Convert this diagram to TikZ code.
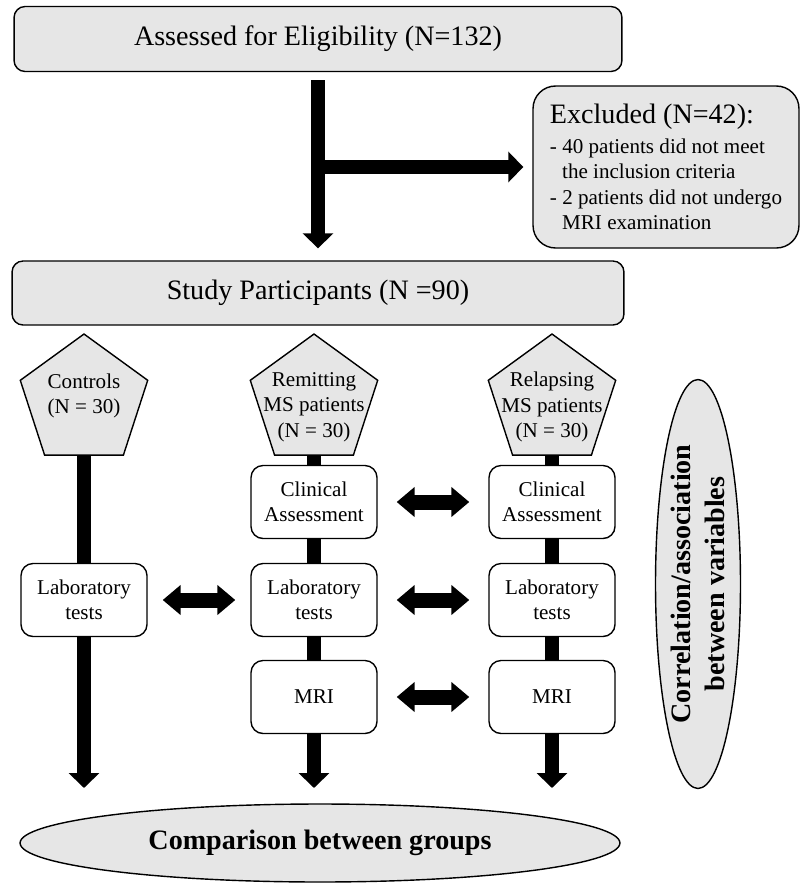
\documentclass[tikz,border=0pt]{standalone}
\usepackage{fontspec}
\setmainfont{Liberation Serif}
\usetikzlibrary{arrows.meta,shapes.geometric}
\definecolor{boxgrey}{HTML}{E6E6E6}
\begin{document}
\begin{tikzpicture}[x=0.02cm,y=-0.02cm,
    greybox/.style={draw,thick,rounded corners=0.22cm,fill=boxgrey,font=\fontsize{16}{19}\selectfont},
    stagebox/.style={draw,thick,rounded corners=0.24cm,fill=white,align=center,minimum width=2.52cm,minimum height=1.46cm,font=\fontsize{12}{14.5}\selectfont},
    pent/.style={regular polygon,regular polygon sides=5,draw,thick,fill=boxgrey,minimum size=2.68cm,inner sep=0pt},
    penttext/.style={align=center,font=\fontsize{12}{14.5}\selectfont},
    oval/.style={ellipse,draw,thick,fill=boxgrey,inner sep=0pt,align=center,font=\bfseries\fontsize{16}{19.5}\selectfont},
    fatline/.style={line width=0.28cm},
    fatarrow/.style={line width=0.28cm,-{Triangle[width=0.6cm,length=0.3cm]}},
    dblarrow/.style={line width=0.3cm,{Triangle[width=0.58cm,length=0.36cm]}-{Triangle[width=0.58cm,length=0.36cm]}}]
    \useasboundingbox (0,0) rectangle (800,883);

    % enrolment
    \node[greybox,minimum width=12.16cm,minimum height=1.3cm] (assessed) at (318,39) {Assessed for Eligibility (N=132)};
    \node[greybox,rounded corners=0.45cm,minimum width=5.32cm,minimum height=3.24cm,align=left,font=\fontsize{12}{14.5}\selectfont] (excluded) at (666,167)
        {{\fontsize{16}{19}\selectfont Excluded (N=42):}\\[2.5pt]
         - 40 patients did not meet\\
         \hspace*{0.58em}the inclusion criteria\\
         - 2 patients did not undergo\\
         \hspace*{0.58em}MRI examination};
    \node[greybox,minimum width=12.24cm,minimum height=1.28cm] (study) at (318,293) {Study Participants (N =90)};
    \coordinate (split) at (assessed.south |- excluded.west);

    % groups
    \node[pent] (ctrl) at (84,401) {};
    \node[pent] (rem) at (314,401) {};
    \node[pent] (rel) at (552,401) {};
    \node[penttext] (ctrltxt) at (84,396) {Controls\\(N = 30)};
    \node[penttext] (remtxt) at (314,407) {Remitting\\MS patients\\(N = 30)};
    \node[penttext] (reltxt) at (552,407) {Relapsing\\MS patients\\(N = 30)};

    % assessments
    \node[stagebox] (ctrllab) at (84,600) {Laboratory\\tests};
    \node[stagebox] (remclin) at (314,502) {Clinical\\Assessment};
    \node[stagebox] (remlab) at (314,600) {Laboratory\\tests};
    \node[stagebox] (remmri) at (314,697) {MRI};
    \node[stagebox] (relclin) at (552,502) {Clinical\\Assessment};
    \node[stagebox] (rellab) at (552,600) {Laboratory\\tests};
    \node[stagebox] (relmri) at (552,697) {MRI};
    \coordinate (ctrlend) at (84,788);
    \coordinate (remend) at (314,788);
    \coordinate (relend) at (552,788);

    \node[oval,rotate=90,minimum width=8.18cm,minimum height=1.7cm] (corr) at (698,584) {Correlation/association\\between variables};
    \node[oval,minimum width=12cm,minimum height=1.56cm] (cmp) at (320,843) {Comparison between groups};

    \draw[fatarrow,shorten <=0.16cm,shorten >=0.24cm] (assessed) -- (study);
    \draw[fatarrow,shorten >=0.18cm] (split) -- (excluded);
    \draw[fatline] (ctrl) -- (ctrllab); \draw[fatarrow] (ctrllab) -- (ctrlend);
    \draw[fatline] (rem) -- (remclin); \draw[fatline] (remclin) -- (remlab); \draw[fatline] (remlab) -- (remmri); \draw[fatarrow] (remmri) -- (remend);
    \draw[fatline] (rel) -- (relclin); \draw[fatline] (relclin) -- (rellab); \draw[fatline] (rellab) -- (relmri); \draw[fatarrow] (relmri) -- (relend);
    \draw[dblarrow,shorten <=0.3cm,shorten >=0.3cm] (ctrllab) -- (remlab);
    \draw[dblarrow,shorten <=0.38cm,shorten >=0.38cm] (remclin) -- (relclin);
    \draw[dblarrow,shorten <=0.38cm,shorten >=0.38cm] (remlab) -- (rellab);
    \draw[dblarrow,shorten <=0.38cm,shorten >=0.38cm] (remmri) -- (relmri);
\end{tikzpicture}
\end{document}
